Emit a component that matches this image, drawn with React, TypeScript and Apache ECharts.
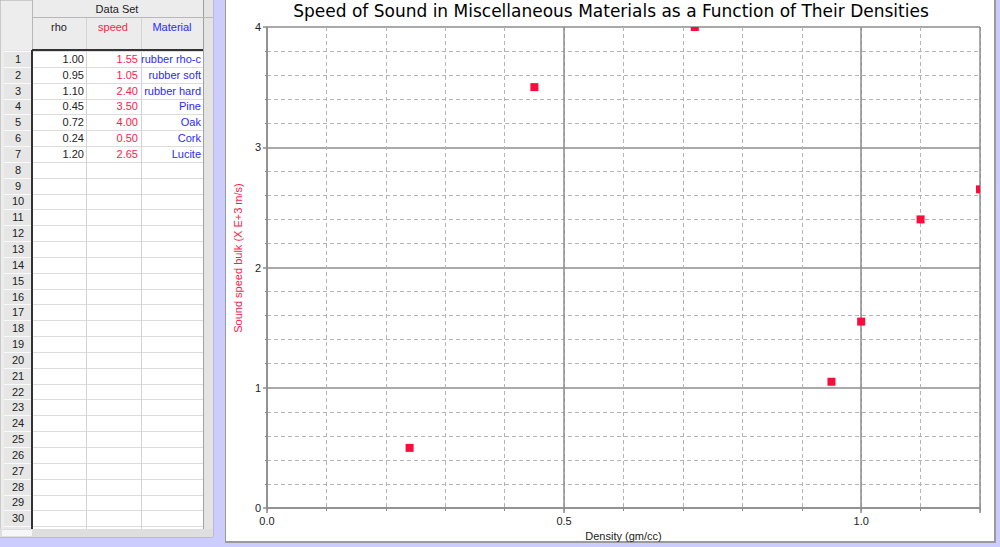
import React, { useEffect, useRef } from 'react';
import * as echarts from 'echarts';

// ---------- data ----------
const rho = [1.0, 0.95, 1.1, 0.45, 0.72, 0.24, 1.2];
const speed = [1.55, 1.05, 2.4, 3.5, 4.0, 0.5, 2.65];
const material = ['rubber rho-c', 'rubber soft', 'rubber hard', 'Pine', 'Oak', 'Cork', 'Lucite'];
const tableTitle = 'Data Set';
const columnNames = ['rho', 'speed', 'Material'];
const rowCount = 30;
const chartTitle = 'Speed of Sound in Miscellaneous Materials as a Function of Their Densities';
const xAxisName = 'Density (gm/cc)';
const yAxisName = 'Sound speed bulk (X E+3 m/s)';
const xMin = 0;
const xMax = 1.2;
const xMajor = 0.5;
const xMinor = 0.1;
const yMin = 0;
const yMax = 4;
const yMajor = 1;
const yMinorSplit = 5;

// ---------- styles ----------
const FONT = '"Liberation Sans", Arial, Helvetica, sans-serif';
const RED = '#ff2048';
const BLUE = '#2a2aff';
const MARK = '#ff0a3c';
const MAJOR = '#8c8c8c';
const MINOR = '#b4b4b4';

const ROW_TOP = 51;
const ROW_H = 15.84;
const TABLE_BOTTOM = 529;

function buildTable(): any[] {
  const els: any[] = [];
  els.push({ type: 'rect', shape: { x: 0, y: 0, width: 213, height: 537 }, style: { fill: '#ededed', stroke: '#a8a8a8', lineWidth: 1 } });
  els.push({ type: 'rect', shape: { x: 32, y: 50, width: 171, height: TABLE_BOTTOM - 50 }, style: { fill: '#ffffff' } });
  els.push({ type: 'rect', shape: { x: 4, y: 50, width: 28, height: TABLE_BOTTOM - 50 }, style: { fill: '#e6e6e6' } });
  els.push({ type: 'rect', shape: { x: 32, y: 0, width: 171, height: 50 }, style: { fill: '#ececec' } });
  els.push({ type: 'rect', shape: { x: 203, y: 0, width: 10, height: TABLE_BOTTOM }, style: { fill: '#e4e4e4' } });
  els.push({ type: 'rect', shape: { x: 0, y: TABLE_BOTTOM, width: 213, height: 8 }, style: { fill: '#dedede' } });
  els.push({ type: 'rect', shape: { x: 2, y: TABLE_BOTTOM + 1, width: 30, height: 6 }, style: { fill: '#f6f6f6' } });

  for (let i = 0; i <= rowCount + 1; i++) {
    const y = Math.round(ROW_TOP + i * ROW_H) + 0.5;
    if (y > TABLE_BOTTOM) break;
    els.push({ type: 'line', shape: { x1: 32, y1: y, x2: 203, y2: y }, style: { stroke: '#dcdcdc', lineWidth: 1 } });
    els.push({ type: 'line', shape: { x1: 4, y1: y, x2: 32, y2: y }, style: { stroke: '#fafafa', lineWidth: 1 } });
  }
  els.push({ type: 'line', shape: { x1: 86.5, y1: 17, x2: 86.5, y2: TABLE_BOTTOM }, style: { stroke: '#d4d4d4', lineWidth: 1 } });
  els.push({ type: 'line', shape: { x1: 141.5, y1: 17, x2: 141.5, y2: TABLE_BOTTOM }, style: { stroke: '#d4d4d4', lineWidth: 1 } });
  els.push({ type: 'line', shape: { x1: 203.5, y1: 0, x2: 203.5, y2: TABLE_BOTTOM }, style: { stroke: '#a0a0a0', lineWidth: 1 } });
  els.push({ type: 'line', shape: { x1: 32.5, y1: 0, x2: 32.5, y2: 50 }, style: { stroke: '#b8b8b8', lineWidth: 1 } });
  els.push({ type: 'line', shape: { x1: 32, y1: 17.5, x2: 213, y2: 17.5 }, style: { stroke: '#b8b8b8', lineWidth: 1 } });
  els.push({ type: 'line', shape: { x1: 32, y1: 50, x2: 203, y2: 50 }, style: { stroke: '#333', lineWidth: 2 } });
  els.push({ type: 'line', shape: { x1: 32, y1: 50, x2: 32, y2: TABLE_BOTTOM }, style: { stroke: '#333', lineWidth: 2 } });

  const txt = (text: string, x: number, y: number, fill: string, align: string) => ({
    type: 'text',
    x,
    y,
    style: { text, fill, font: '11px ' + FONT, align, verticalAlign: 'middle' },
  });

  els.push(txt(tableTitle, 117, 9, '#222', 'center'));
  els.push(txt(columnNames[0], 59, 27, '#222', 'center'));
  els.push(txt(columnNames[1], 113, 27, RED, 'center'));
  els.push(txt(columnNames[2], 172, 27, BLUE, 'center'));

  for (let i = 0; i < rowCount; i++) {
    const cy = ROW_TOP + (i + 0.5) * ROW_H;
    els.push(txt(String(i + 1), 18, cy, '#222', 'center'));
  }
  for (let i = 0; i < rho.length; i++) {
    const cy = ROW_TOP + (i + 0.5) * ROW_H;
    els.push(txt(rho[i].toFixed(2), 84, cy, '#222', 'right'));
    els.push(txt(speed[i].toFixed(2), 138, cy, RED, 'right'));
    els.push(txt(material[i], 201, cy, BLUE, 'right'));
  }
  return els;
}

function buildPanel(): any[] {
  return [
    { type: 'rect', z: -10, shape: { x: 225, y: 0, width: 771, height: 543 }, style: { fill: '#9a9a9a' } },
    { type: 'rect', z: -10, shape: { x: 226, y: 0, width: 768, height: 541 }, style: { fill: '#ffffff' } },
  ];
}

export default function App() {
  const ref = useRef<HTMLDivElement>(null);

  useEffect(() => {
    document.body.style.margin = '0';
    if (!ref.current) return;
    const chart = echarts.init(ref.current, undefined, { renderer: 'svg' });

    const points = rho.map((r, i) => [r, speed[i]]);

    const option: any = {
      animation: false,
      backgroundColor: '#ccccff',
      title: {
        text: chartTitle,
        left: 611,
        top: 2,
        textAlign: 'center',
        padding: 0,
        textStyle: { fontFamily: '"DejaVu Sans", sans-serif', fontSize: 17, fontWeight: 'normal', color: '#000' },
      },
      graphic: { elements: [...buildPanel(), ...buildTable()] },
      grid: { left: 267, top: 27, width: 713, height: 481, show: false },
      xAxis: [
        {
          type: 'value',
          position: 'bottom',
          min: xMin,
          max: xMax,
          interval: xMinor,
          axisLine: { show: false },
          axisTick: { show: true, length: 3, lineStyle: { color: MAJOR } },
          axisLabel: { show: false },
          splitLine: { show: true, lineStyle: { color: MINOR, type: [4, 3], width: 1 } },
        },
        {
          type: 'value',
          position: 'bottom',
          min: xMin,
          max: xMax,
          interval: xMajor,
          name: xAxisName,
          nameLocation: 'middle',
          nameGap: 22,
          nameTextStyle: { fontFamily: FONT, fontSize: 11, color: '#222' },
          axisLine: { show: true, onZero: false, lineStyle: { color: MAJOR, width: 1.5 } },
          axisTick: { show: true, length: 5, lineStyle: { color: MAJOR, width: 1.5 } },
          axisLabel: {
            show: true,
            margin: 7,
            fontFamily: FONT,
            fontSize: 11,
            color: '#222',
            formatter: (v: number) => (Math.abs(v / xMajor - Math.round(v / xMajor)) < 1e-9 ? v.toFixed(1) : ''),
          },
          splitLine: { show: true, lineStyle: { color: MAJOR, type: 'solid', width: 1.5 } },
        },
      ],
      yAxis: {
        type: 'value',
        min: yMin,
        max: yMax,
        interval: yMajor,
        name: yAxisName,
        nameLocation: 'middle',
        nameGap: 23,
        nameTextStyle: { fontFamily: FONT, fontSize: 11, color: RED, padding: [0, 0, 0, 19] },
        axisLine: { show: true, onZero: false, lineStyle: { color: MAJOR, width: 1.5 } },
        axisTick: { show: true, length: 4, lineStyle: { color: MAJOR, width: 1.5 } },
        minorTick: { show: true, splitNumber: yMinorSplit, length: 2, lineStyle: { color: MAJOR } },
        axisLabel: { show: true, margin: 6, fontFamily: FONT, fontSize: 11, color: '#222' },
        splitLine: { show: true, lineStyle: { color: MAJOR, type: 'solid', width: 1.5 } },
        minorSplitLine: { show: true, lineStyle: { color: MINOR, type: [4, 3], width: 1 } },
      },
      series: [
        {
          type: 'custom',
          xAxisIndex: 0,
          yAxisIndex: 0,
          clip: true,
          encode: { x: 0, y: 1 },
          data: points,
          renderItem: (params: any, api: any) => {
            const p = api.coord([api.value(0), api.value(1)]);
            return {
              type: 'rect',
              shape: { x: p[0] - 4, y: p[1] - 4, width: 8, height: 8 },
              style: { fill: MARK },
            };
          },
          z: 5,
        },
      ],
    };

    chart.setOption(option);
    return () => chart.dispose();
  }, []);

  return <div ref={ref} style={{ width: 1000, height: 547 }} />;
}
